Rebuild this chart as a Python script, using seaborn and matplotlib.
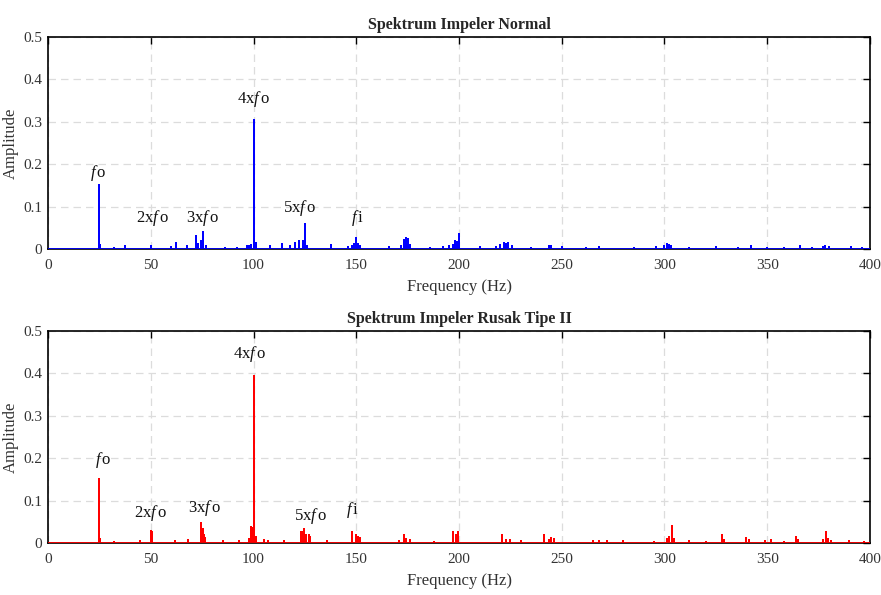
import numpy as np
import pandas as pd
import matplotlib
matplotlib.use("Agg")
import matplotlib.pyplot as plt
import seaborn as sns

# ---- data ----
normal_freq = [25, 25.4, 32, 37.5, 50, 60, 62.5, 67.5, 72, 73, 74.5, 75.5, 77, 86, 92, 97, 98, 98.7,
               100, 101, 108, 114, 118, 120, 122, 124, 125, 126, 137.5, 146, 148, 149, 150, 151, 152,
               166, 172, 173, 174, 175, 176, 186, 192, 195, 197, 198, 199, 200, 210, 218, 220, 222,
               223, 224, 226, 235, 244, 245, 250, 262, 268, 285, 296, 300, 301, 302, 303, 312, 325,
               336, 342, 350, 358, 366, 372, 377, 378, 380, 391, 396]
normal_amp = [0.15, 0.01, 0.003, 0.006, 0.008, 0.004, 0.013, 0.006, 0.03, 0.012, 0.02, 0.04, 0.008, 0.003,
              0.003, 0.006, 0.008, 0.01, 0.305, 0.015, 0.008, 0.012, 0.006, 0.015, 0.02, 0.02, 0.06, 0.008,
              0.01, 0.004, 0.008, 0.012, 0.025, 0.012, 0.006, 0.004, 0.008, 0.022, 0.025, 0.024, 0.01,
              0.003, 0.005, 0.006, 0.01, 0.018, 0.017, 0.036, 0.005, 0.004, 0.01, 0.015, 0.012, 0.015,
              0.008, 0.003, 0.008, 0.006, 0.004, 0.003, 0.005, 0.003, 0.004, 0.008, 0.012, 0.01, 0.007,
              0.003, 0.004, 0.003, 0.007, 0.003, 0.003, 0.006, 0.003, 0.005, 0.006, 0.005, 0.004, 0.003]

rusak_freq = [25, 25.4, 32, 45, 50, 50.4, 62, 68, 74.5, 75.2, 75.8, 76.5, 85, 93, 98, 98.7, 99.5,
              100, 101, 105, 107, 115, 123, 124, 124.8, 125.5, 127, 127.6, 136, 148, 150, 151, 152,
              171, 173, 174, 176, 188, 197, 198.5, 199.5, 221, 223, 225, 230, 241.5, 244, 245, 246,
              265, 268, 272, 280, 295, 301, 302, 303.5, 304.5, 312, 320, 328, 329, 339.5, 341, 349,
              352, 358, 364, 365, 377, 378.5, 379.5, 381, 390, 397]
rusak_amp = [0.15, 0.01, 0.003, 0.004, 0.028, 0.026, 0.004, 0.007, 0.047, 0.033, 0.02, 0.012, 0.004,
             0.004, 0.01, 0.037, 0.035, 0.395, 0.015, 0.008, 0.005, 0.005, 0.025, 0.025, 0.032, 0.02,
             0.02, 0.015, 0.004, 0.027, 0.02, 0.015, 0.012, 0.005, 0.02, 0.01, 0.008, 0.003, 0.027,
             0.018, 0.025, 0.02, 0.008, 0.007, 0.004, 0.018, 0.008, 0.012, 0.01, 0.004, 0.004, 0.005,
             0.004, 0.003, 0.01, 0.015, 0.04, 0.01, 0.004, 0.003, 0.02, 0.008, 0.012, 0.006, 0.004,
             0.007, 0.003, 0.015, 0.008, 0.008, 0.025, 0.01, 0.005, 0.004, 0.003]

titles = ["Spektrum Impeler Normal", "Spektrum Impeler Rusak Tipe II"]
colors = ["#0000ff", "#ff0000"]

ann_labels = ["fo", "2xfo", "3xfo", "4xfo", "5xfo", "fi"]
normal_ann_x = [24.3, 50.6, 75.4, 100, 122.6, 150.4]
normal_ann_y = [0.18, 0.073, 0.073, 0.354, 0.097, 0.073]
rusak_ann_x = [26.8, 50, 76, 98, 127.5, 148]
rusak_ann_y = [0.196, 0.071, 0.083, 0.446, 0.064, 0.078]

xticks = [0, 50, 100, 150, 200, 250, 300, 350, 400]
yticks = [0, 0.1, 0.2, 0.3, 0.4, 0.5]
ytick_labels = ["0", "0.1", "0.2", "0.3", "0.4", "0.5"]

sns.set_style("white")
plt.rcParams["font.family"] = ["Liberation Serif", "DejaVu Serif"]
plt.rcParams["mathtext.fontset"] = "custom"
plt.rcParams["mathtext.it"] = "Liberation Serif:italic"
plt.rcParams["mathtext.rm"] = "Liberation Serif"

fig = plt.figure(figsize=(8.81, 5.95), dpi=100)
ax1 = fig.add_axes([0.0545, 0.5815, 0.933, 0.3563])
ax2 = fig.add_axes([0.0545, 0.0874, 0.933, 0.3563])


def stems(freq, amp):
    rows = []
    for i, (f, a) in enumerate(zip(freq, amp)):
        rows += [(i, f, 0.0), (i, f, a), (i, f, 0.0)]
    return pd.DataFrame(rows, columns=["id", "f", "a"])


def fmt_label(s):
    # italic f inside label
    return s.replace("fo", r"$f\,$o").replace("fi", r"$f\,$i")


for ax, freq, amp, col, title, ax_x, ax_y in [
    (ax1, normal_freq, normal_amp, colors[0], titles[0], normal_ann_x, normal_ann_y),
    (ax2, rusak_freq, rusak_amp, colors[1], titles[1], rusak_ann_x, rusak_ann_y),
]:
    df = stems(freq, amp)
    sns.lineplot(data=df, x="f", y="a", units="id", estimator=None, sort=False,
                 color=col, linewidth=1.3, ax=ax, legend=False)
    ax.axhline(0, color=col, linewidth=2.0, zorder=3)
    ax.set_xlim(0, 400)
    ax.set_ylim(0, 0.5)
    ax.set_xticks(xticks)
    ax.set_yticks(yticks)
    ax.set_yticklabels(ytick_labels)
    ax.tick_params(direction="in", length=5, width=1.0, colors="black",
                   labelsize=11, top=True, right=True)
    ax.tick_params(axis="x", pad=7)
    ax.tick_params(axis="y", pad=4)
    for lab in ax.get_xticklabels() + ax.get_yticklabels():
        lab.set_color("#333333")
    ax.grid(True, linestyle=(0, (6, 4)), color="#dcdcdc", linewidth=0.9)
    ax.set_axisbelow(True)
    for sp in ax.spines.values():
        sp.set_visible(True)
        sp.set_color("black")
        sp.set_linewidth(1.2)
    ax.set_xlabel("Frequency (Hz)", fontsize=12, color="#333333", labelpad=5)
    ax.set_ylabel("Amplitude", fontsize=12, color="#333333", labelpad=3)
    ax.set_title(title, fontsize=11.5, fontweight="bold", pad=6)
    for lbl, x, y in zip(ann_labels, ax_x, ax_y):
        ax.text(x, y, fmt_label(lbl), ha="center", va="center", fontsize=12, color="#111111")

fig.savefig("out.png", dpi=100)
